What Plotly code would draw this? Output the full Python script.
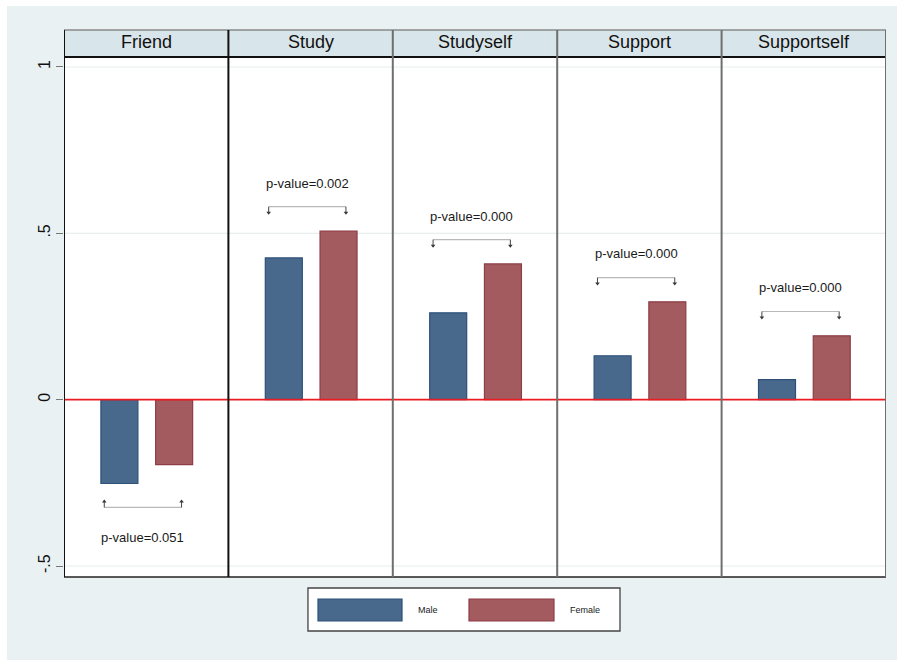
import plotly.graph_objects as go

# Panels and group means
panels = ["Friend", "Study", "Studyself", "Support", "Supportself"]
male = [-0.252, 0.426, 0.261, 0.132, 0.060]
female = [-0.195, 0.507, 0.408, 0.294, 0.192]
pvalues = ["0.051", "0.002", "0.000", "0.000", "0.000"]
groups = ["Male", "Female"]

ytick_vals = [-0.5, 0, 0.5, 1]
ytick_text = ["-.5", "0", ".5", "1"]

MALE_FILL, MALE_LINE = "#48698b", "#2d5079"
FEM_FILL, FEM_LINE = "#a45b60", "#8c3d45"
BG = "#e9f1f3"
STRIP = "#d8e5ea"
FONT = "Liberation Sans, Arial"

n = len(panels)
centers = [i + 0.5 for i in range(n)]
bar_w = 0.225
off_m, off_f = -0.163, 0.17

fig = go.Figure()
fig.add_trace(go.Bar(x=[c + off_m for c in centers], y=male, width=bar_w, name=groups[0],
                     marker=dict(color=MALE_FILL, line=dict(color=MALE_LINE, width=1.2)),
                     showlegend=False))
fig.add_trace(go.Bar(x=[c + off_f for c in centers], y=female, width=bar_w, name=groups[1],
                     marker=dict(color=FEM_FILL, line=dict(color=FEM_LINE, width=1.2)),
                     showlegend=False))

shapes = []
annotations = []

# page background and white plotting region
shapes.append(dict(type="rect", xref="paper", yref="paper", x0=-0.0693, x1=1.0134,
                   y0=-0.1596, y1=1.098, fillcolor=BG, line=dict(width=0), layer="below"))
shapes.append(dict(type="rect", xref="paper", yref="paper", x0=0, x1=1, y0=0, y1=1,
                   fillcolor="white", line=dict(width=0), layer="below"))
# light grid lines
for v in [-0.5, 0.5, 1]:
    shapes.append(dict(type="line", xref="paper", yref="y", x0=0, x1=1, y0=v, y1=v,
                       line=dict(color="#e6eef0", width=1.2), layer="below"))

# significance brackets
tri_x, tri_y, tri_sym = [], [], []
for i, c in enumerate(centers):
    hi = max(male[i], female[i], 0)
    lo = min(male[i], female[i], 0)
    xl, xr = c - 0.255, c + 0.215
    if hi > 0:
        yb = hi + 0.073
        tick = -0.018
        ytxt = yb + 0.071
        sym = "triangle-down"
    else:
        yb = lo - 0.072
        tick = 0.018
        ytxt = yb - 0.09
        sym = "triangle-up"
    shapes.append(dict(type="line", x0=xl, x1=xr, y0=yb, y1=yb,
                       line=dict(color="#b9b9b9", width=1.2)))
    for xx in (xl, xr):
        shapes.append(dict(type="line", x0=xx, x1=xx, y0=yb, y1=yb + tick,
                           line=dict(color="#444444", width=1)))
        tri_x.append(xx)
        tri_y.append(yb + tick)
        tri_sym.append(sym)
    annotations.append(dict(x=c - 0.02, y=ytxt, text="p-value=" + pvalues[i], showarrow=False,
                            yanchor="middle",
                            font=dict(size=13, color="#1a1a1a", family=FONT)))

fig.add_trace(go.Scatter(x=tri_x, y=tri_y, mode="markers", showlegend=False, hoverinfo="skip",
                         marker=dict(symbol=tri_sym, size=4, color="#333333")))

# zero line
shapes.append(dict(type="line", xref="paper", x0=0, x1=1, y0=0, y1=0,
                   line=dict(color="#ea1c22", width=1.6)))

# strip headers
strip_top = 1.0519
for i, name in enumerate(panels):
    shapes.append(dict(type="rect", xref="x", yref="paper", x0=i, x1=i + 1, y0=1.0, y1=strip_top,
                       fillcolor=STRIP, line=dict(width=0), layer="below"))
    annotations.append(dict(x=centers[i], y=(1.0 + strip_top) / 2 + 0.002, xref="x", yref="paper",
                            text=name, showarrow=False, xanchor="center", yanchor="middle",
                            font=dict(size=18, color="#111111", family=FONT)))
shapes.append(dict(type="line", xref="paper", yref="paper", x0=0, x1=1, y0=strip_top, y1=strip_top,
                   line=dict(color="#8a8a8a", width=1.5)))
shapes.append(dict(type="line", xref="paper", yref="paper", x0=0, x1=1, y0=1.0, y1=1.0,
                   line=dict(color="#111111", width=2)))
shapes.append(dict(type="line", xref="paper", yref="paper", x0=0, x1=1, y0=0, y1=0,
                   line=dict(color="#222222", width=1.6)))
# panel borders
for k in range(n + 1):
    col = "#111111" if k <= 1 else "#6f6f6f"
    shapes.append(dict(type="line", xref="x", yref="paper", x0=k, x1=k, y0=0, y1=strip_top,
                       line=dict(color=col, width=2)))

# legend box
shapes.append(dict(type="rect", xref="paper", yref="paper", x0=0.2968, x1=0.6764,
                   y0=-0.1038, y1=-0.0212, fillcolor="white",
                   line=dict(color="#444444", width=1.3)))
shapes.append(dict(type="rect", xref="paper", yref="paper", x0=0.309, x1=0.4112,
                   y0=-0.0846, y1=-0.0423, fillcolor=MALE_FILL, line=dict(color=MALE_LINE, width=1.2)))
shapes.append(dict(type="rect", xref="paper", yref="paper", x0=0.4927, x1=0.5961,
                   y0=-0.0846, y1=-0.0423, fillcolor=FEM_FILL, line=dict(color=FEM_LINE, width=1.2)))
for xp, label in [(0.4282, groups[0]), (0.6131, groups[1])]:
    annotations.append(dict(x=xp, y=-0.0635, xref="paper", yref="paper", text=label,
                            showarrow=False, xanchor="left", yanchor="middle",
                            font=dict(size=9, color="#1a1a1a", family=FONT)))

fig.update_layout(
    width=899, height=660,
    margin=dict(l=64, r=13, t=57, b=83),
    paper_bgcolor="white",
    plot_bgcolor="rgba(0,0,0,0)",
    barmode="overlay",
    shapes=shapes,
    annotations=annotations,
    xaxis=dict(range=[0, n], showgrid=False, zeroline=False, showticklabels=False,
               ticks="", showline=False, fixedrange=True),
    yaxis=dict(range=[-0.533, 1.030], tickvals=ytick_vals, ticktext=ytick_text,
               tickangle=-90, ticks="outside", ticklen=7, tickwidth=1.2, tickcolor="#777777",
               showgrid=False, zeroline=False, showline=False,
               tickfont=dict(size=16, color="#111111", family=FONT)),
)

fig.write_html("out.html")
